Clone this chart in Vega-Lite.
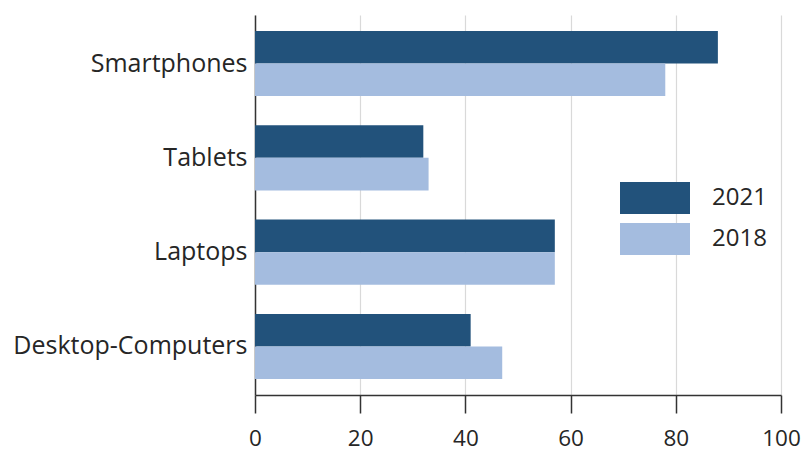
{
  "$schema": "https://vega.github.io/schema/vega-lite/v6.json",
  "width": 526,
  "height": 380,
  "autosize": {"type": "none"},
  "padding": {"left": 255, "top": 15, "right": 25, "bottom": 57},
  "background": "white",
  "config": {
    "font": "Open Sans",
    "view": {"stroke": null},
    "axis": {"labelColor": "#262626", "labelFont": "Open Sans"},
    "legend": {"labelFont": "Open Sans"}
  },
  "data": {
    "values": [
      {"device": "Smartphones", "year": "2021", "value": 88},
      {"device": "Smartphones", "year": "2018", "value": 78},
      {"device": "Tablets", "year": "2021", "value": 32},
      {"device": "Tablets", "year": "2018", "value": 33},
      {"device": "Laptops", "year": "2021", "value": 57},
      {"device": "Laptops", "year": "2018", "value": 57},
      {"device": "Desktop-Computers", "year": "2021", "value": 41},
      {"device": "Desktop-Computers", "year": "2018", "value": 47}
    ]
  },
  "mark": {"type": "bar"},
  "encoding": {
    "y": {
      "field": "device",
      "type": "nominal",
      "sort": ["Smartphones", "Tablets", "Laptops", "Desktop-Computers"],
      "scale": {"paddingInner": 0.31, "paddingOuter": 0.17},
      "axis": {
        "title": null,
        "ticks": false,
        "labelFontSize": 25,
        "labelLimit": 0,
        "labelPadding": 8,
        "domainColor": "#333333",
        "domainWidth": 1.5,
        "grid": false
      }
    },
    "yOffset": {
      "field": "year",
      "type": "nominal",
      "sort": ["2021", "2018"],
      "scale": {"paddingInner": 0, "paddingOuter": 0}
    },
    "x": {
      "field": "value",
      "type": "quantitative",
      "scale": {"domain": [0, 100], "nice": false},
      "axis": {
        "title": null,
        "values": [0, 20, 40, 60, 80, 100],
        "labelFontSize": 22.5,
        "labelFlush": false,
        "labelOverlap": false,
        "labelPadding": 14,
        "tickSize": 18,
        "tickColor": "#333333",
        "tickWidth": 1.5,
        "domainColor": "#333333",
        "domainWidth": 1.5,
        "grid": true,
        "gridColor": "#d9d9d9",
        "gridWidth": 1.2
      }
    },
    "color": {
      "field": "year",
      "type": "nominal",
      "scale": {"domain": ["2021", "2018"], "range": ["#22527b", "#a4bcdf"]},
      "legend": {
        "title": null,
        "orient": "none",
        "legendX": 365,
        "legendY": 167,
        "padding": 0,
        "symbolType": "M-1,-1H3.375V1H-1Z",
        "symbolSize": 1024,
        "symbolStrokeWidth": 0,
        "symbolOpacity": 1,
        "labelFontSize": 24,
        "labelColor": "#262626",
        "labelOffset": 60,
        "rowPadding": 9
      }
    }
  }
}
